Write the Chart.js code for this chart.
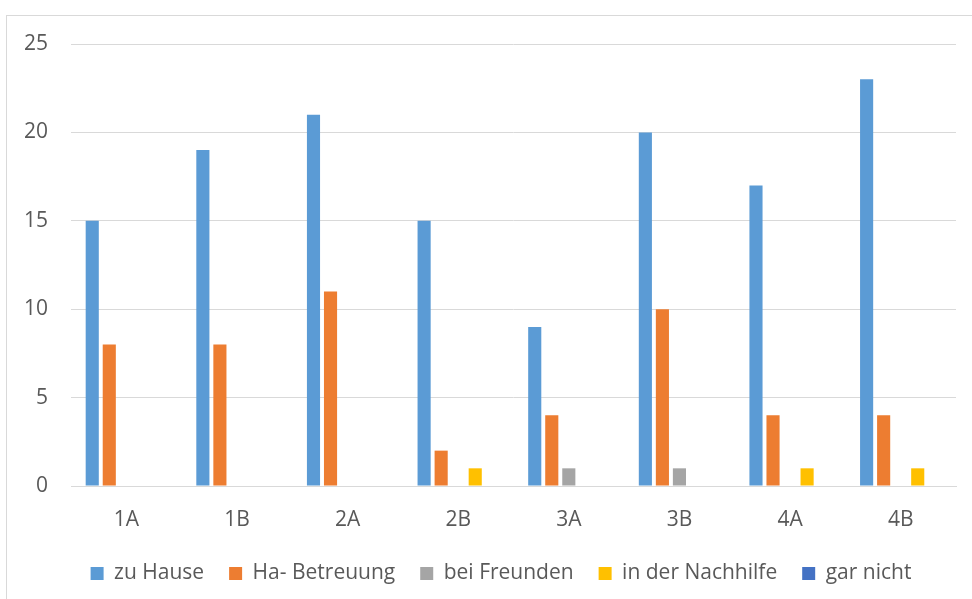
<!DOCTYPE html>
<html>
<head>
<meta charset="utf-8">
<script src="https://cdn.jsdelivr.net/npm/chart.js@4"></script>
<style>
    body { margin: 0; background: #fff; overflow: hidden; }
    #frame { position: absolute; left: 6px; top: 15px; width: 1000px; height: 1000px; border: 1px solid #d9d9d9; }
    #wrap { position: absolute; left: 0; top: 0; width: 972px; height: 599px; }
</style>
</head>
<body>
<div id="frame"></div>
<div id="wrap"><canvas id="chart"></canvas></div>
<script>
// Klassen und Antworten
const classes = ["1A", "1B", "2A", "2B", "3A", "3B", "4A", "4B"];
const zuHause = [15, 19, 21, 15, 9, 20, 17, 23];
const haBetreuung = [8, 8, 11, 2, 4, 10, 4, 4];
const beiFreunden = [0, 0, 0, 0, 1, 1, 0, 0];
const nachhilfe = [0, 0, 0, 1, 0, 0, 1, 1];
const garNicht = [0, 0, 0, 0, 0, 0, 0, 0];

Chart.defaults.font.family = "'Open Sans', sans-serif";
Chart.defaults.font.size = 21;
Chart.defaults.color = "#595959";

function series(label, data, color) {
    return {
        label: label,
        data: data,
        backgroundColor: color,
        borderWidth: 0,
        categoryPercentage: 0.77,
        barPercentage: 0.77,
    };
}

// legend sits a bit right of the canvas centre in the original
const legendShift = {
    id: "legendShift",
    afterLayout: function (chart) {
        chart.legend.left += 23;
        chart.legend.right += 23;
    },
};

const ctx = document.getElementById("chart").getContext("2d");
window.homeworkChart = new Chart(ctx, {
    type: "bar",
    data: {
        labels: classes,
        datasets: [
            series("zu Hause", zuHause, "#5b9bd5"),
            series("Ha- Betreuung", haBetreuung, "#ed7d31"),
            series("bei Freunden", beiFreunden, "#a5a5a5"),
            series("in der Nachhilfe", nachhilfe, "#ffc000"),
            series("gar nicht", garNicht, "#4472c4"),
        ],
    },
    options: {
        responsive: true,
        maintainAspectRatio: false,
        animation: false,
        layout: {
            padding: { left: 0, right: 16, top: 44, bottom: 5 },
        },
        plugins: {
            legend: {
                display: true,
                position: "bottom",
                labels: {
                    boxWidth: 13,
                    boxHeight: 13,
                    padding: 25,
                    color: "#595959",
                },
            },
            tooltip: { enabled: false },
        },
        scales: {
            y: {
                min: 0,
                max: 25,
                ticks: { stepSize: 5, padding: 23 },
                grid: { color: "#d9d9d9", drawTicks: false },
                border: { display: false },
                afterFit: function (scale) { scale.width = 71; },
            },
            x: {
                ticks: { padding: 21 },
                grid: { display: false, drawTicks: false },
                border: { color: "#d9d9d9" },
                afterFit: function (scale) { scale.height = 52; },
            },
        },
    },
    plugins: [legendShift],
});
</script>
</body>
</html>
